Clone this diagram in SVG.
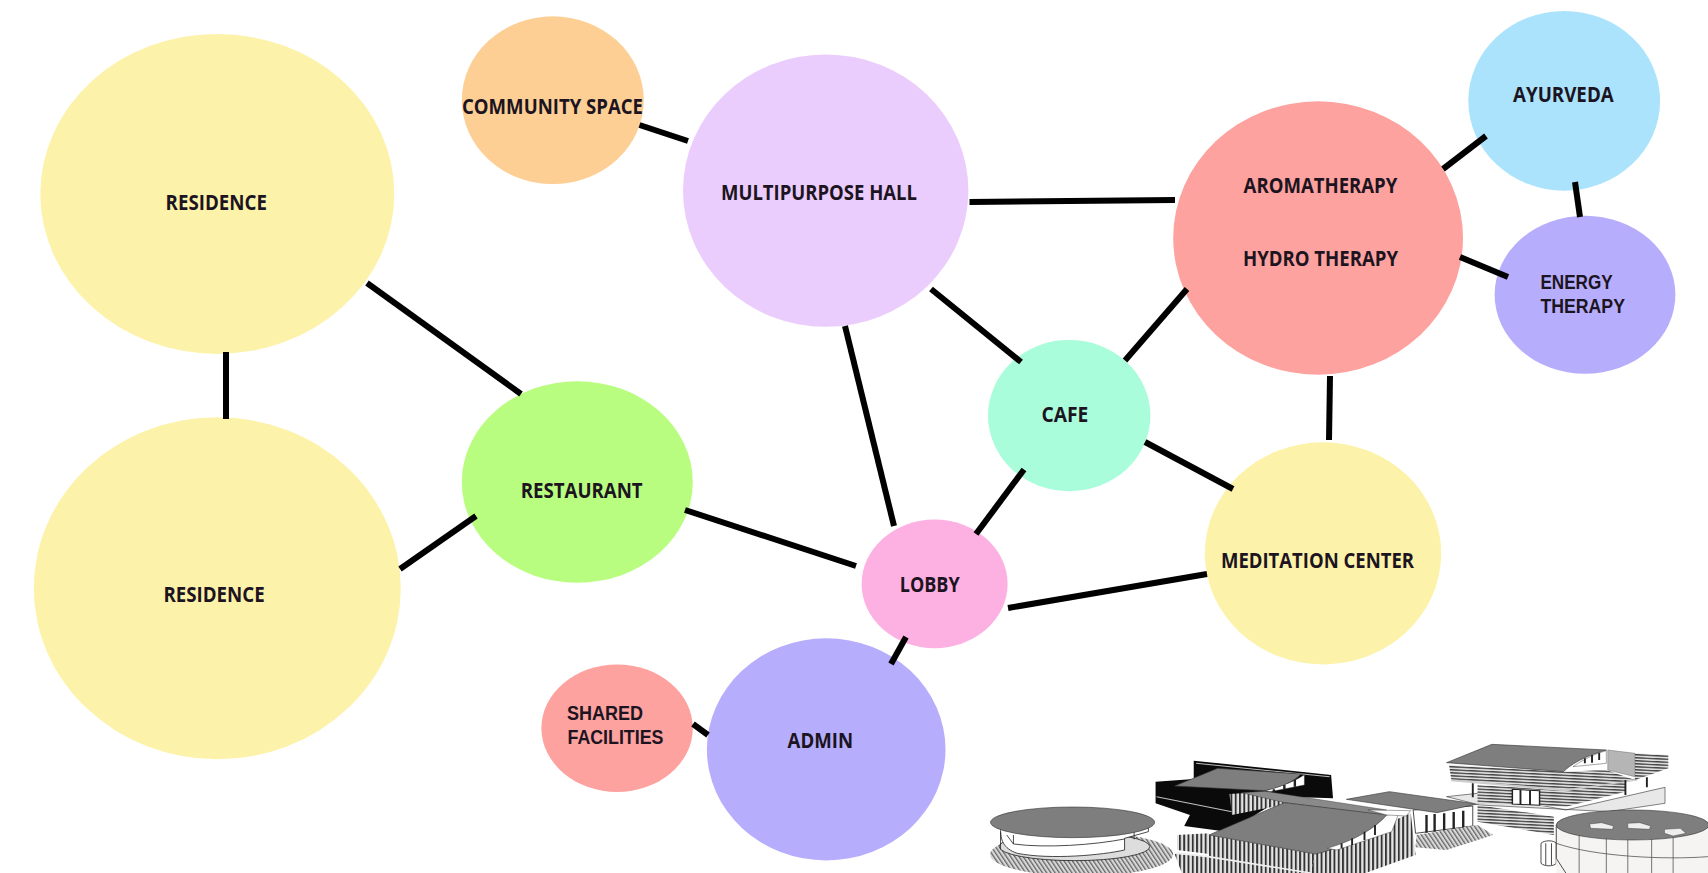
<svg xmlns="http://www.w3.org/2000/svg" width="1708" height="873" viewBox="0 0 1708 873">
<style>
.lbl{font-family:"Open Sans","Liberation Sans",Arial,sans-serif;font-weight:700;font-size:21px;fill:#1c1420}
.lbl2{font-family:"Liberation Sans",Arial,sans-serif;font-weight:700;font-size:21px;fill:#1c1420}
#connectors line{stroke:#000;stroke-width:6;fill:none}
.roof{fill:#7e7e7e;stroke:#333;stroke-width:1.5}
.ol{fill:none;stroke:#222;stroke-width:2}
.w{fill:#fff;stroke:#222;stroke-width:2}
</style>
<defs>
<pattern id="vh" width="9" height="9" patternUnits="userSpaceOnUse"><rect width="9" height="9" fill="#e4e4e4"/><rect width="4" height="9" fill="#333"/></pattern>
<pattern id="hh" width="14" height="9" patternUnits="userSpaceOnUse" patternTransform="rotate(4)"><rect width="14" height="9" fill="#ddd"/><rect width="14" height="4" fill="#444"/></pattern>
<pattern id="dh" width="8" height="8" patternUnits="userSpaceOnUse" patternTransform="rotate(-25)"><rect width="8" height="8" fill="#d8d8d8"/><rect width="3" height="8" fill="#666"/></pattern>
</defs>
<rect width="1708" height="873" fill="#fff"/>
<g id="residence-1"><ellipse cx="217.3" cy="193.9" rx="177" ry="160" fill="#fdf2a9"/><text class="lbl" x="165.6" y="210" textLength="101.4" lengthAdjust="spacingAndGlyphs">RESIDENCE</text></g>
<g id="residence-2"><ellipse cx="217.3" cy="588.2" rx="183.5" ry="171" fill="#fdf2a9"/><text class="lbl" x="163.4" y="602" textLength="101.3" lengthAdjust="spacingAndGlyphs">RESIDENCE</text></g>
<g id="restaurant"><ellipse cx="577.3" cy="482" rx="115.5" ry="100.8" fill="#b9fd80"/><text class="lbl" x="520.7" y="498" textLength="122" lengthAdjust="spacingAndGlyphs">RESTAURANT</text></g>
<g id="community-space"><ellipse cx="552.8" cy="100.2" rx="91" ry="83.9" fill="#fdcf95"/><text class="lbl" x="462" y="114" textLength="181" lengthAdjust="spacingAndGlyphs">COMMUNITY SPACE</text></g>
<g id="multipurpose-hall"><ellipse cx="825.7" cy="190.6" rx="142.7" ry="136.2" fill="#ebcdfd"/><text class="lbl" x="721" y="200" textLength="196" lengthAdjust="spacingAndGlyphs">MULTIPURPOSE HALL</text></g>
<g id="cafe"><ellipse cx="1069.2" cy="415.6" rx="81.2" ry="75.7" fill="#aafddb"/><text class="lbl" x="1041.4" y="422" textLength="46.8" lengthAdjust="spacingAndGlyphs">CAFE</text></g>
<g id="aromatherapy"><ellipse cx="1318.1" cy="238" rx="144.9" ry="136.7" fill="#fda29f"/><text class="lbl" x="1243.6" y="193" textLength="153.7" lengthAdjust="spacingAndGlyphs">AROMATHERAPY</text><text class="lbl" x="1243" y="266" textLength="155" lengthAdjust="spacingAndGlyphs">HYDRO THERAPY</text></g>
<g id="ayurveda"><ellipse cx="1564.2" cy="100.8" rx="95.9" ry="89.9" fill="#abe3fd"/><text class="lbl" x="1513" y="102" textLength="100.7" lengthAdjust="spacingAndGlyphs">AYURVEDA</text></g>
<g id="energy-therapy"><ellipse cx="1585" cy="294.7" rx="90.4" ry="79" fill="#b6aefd"/><text class="lbl2" x="1540.4" y="289" textLength="72.2" lengthAdjust="spacingAndGlyphs">ENERGY</text><text class="lbl2" x="1540.4" y="313" textLength="84.6" lengthAdjust="spacingAndGlyphs">THERAPY</text></g>
<g id="meditation-center"><ellipse cx="1323" cy="553.4" rx="118.2" ry="111.1" fill="#fdf2a9"/><text class="lbl" x="1221" y="568" textLength="193" lengthAdjust="spacingAndGlyphs">MEDITATION CENTER</text></g>
<g id="lobby"><ellipse cx="934.6" cy="583.9" rx="73" ry="64.3" fill="#fdb1e3"/><text class="lbl" x="899.8" y="592" textLength="59.9" lengthAdjust="spacingAndGlyphs">LOBBY</text></g>
<g id="admin"><ellipse cx="826.2" cy="749.4" rx="119.3" ry="111.1" fill="#b6aefd"/><text class="lbl" x="787.6" y="748" textLength="65.4" lengthAdjust="spacingAndGlyphs">ADMIN</text></g>
<g id="shared-facilities"><ellipse cx="617.1" cy="728.2" rx="75.7" ry="63.7" fill="#fda29f"/><text class="lbl2" x="567" y="720" textLength="76" lengthAdjust="spacingAndGlyphs">SHARED</text><text class="lbl2" x="567.5" y="744" textLength="95.9" lengthAdjust="spacingAndGlyphs">FACILITIES</text></g>
<g id="connectors">
<line x1="226" y1="352" x2="226" y2="419"/>
<line x1="367" y1="283" x2="521" y2="394"/>
<line x1="400" y1="569" x2="476" y2="516"/>
<line x1="685" y1="510" x2="856" y2="566"/>
<line x1="639.5" y1="125" x2="688" y2="141"/>
<line x1="969.5" y1="202" x2="1175" y2="200"/>
<line x1="931" y1="289" x2="1021" y2="362"/>
<line x1="845" y1="326" x2="894" y2="526"/>
<line x1="1125" y1="360.5" x2="1187" y2="289"/>
<line x1="1024" y1="469.5" x2="976" y2="534"/>
<line x1="1145" y1="442" x2="1233" y2="489"/>
<line x1="1008" y1="608" x2="1207" y2="574"/>
<line x1="1330" y1="376" x2="1329" y2="440"/>
<line x1="906" y1="637" x2="891" y2="664"/>
<line x1="693" y1="724" x2="708" y2="735"/>
<line x1="1443" y1="169" x2="1486" y2="136"/>
<line x1="1575" y1="182" x2="1580" y2="217"/>
<line x1="1460" y1="257" x2="1508" y2="277"/>
</g>
<g id="building" transform="translate(960,700) scale(0.477,0.3333)">
<ellipse cx="255" cy="463" rx="192" ry="66" fill="url(#dh)"/>
<ellipse cx="240" cy="440" rx="158" ry="42" fill="#ddd" stroke="#222" stroke-width="2"/>
<path d="M85,385 C85,420 90,445 120,460 C190,480 300,465 345,450 L345,415 L395,395 L395,380 Z" fill="#fff" stroke="#222" stroke-width="2"/>
<path d="M98,405 L112,432 C180,445 280,435 345,417" class="ol"/>
<path d="M85,395 L85,448 M112,405 L112,432 M365,385 L365,418" class="ol"/>
<ellipse cx="236" cy="367" rx="172" ry="46" class="roof"/>
<polygon points="410,245 490,237 490,182 778,225 782,295 682,290 560,395 470,378 482,345 410,310" fill="#0a0a0a"/>
<path d="M412,290 L570,335 M495,190 L775,230" stroke="#bbb" stroke-width="3" fill="none"/>
<polygon points="455,405 522,400 522,462 455,450" fill="url(#vh)"/>
<path d="M450,258 L540,205 L715,222 C700,245 670,265 640,272 Z" class="roof"/>
<path d="M640,272 C670,262 700,245 722,224 L722,255 L650,275 Z" fill="#fff" stroke="#222"/>
<path d="M658,268 L658,275 M680,255 L680,268 M702,240 L702,260" stroke="#222" stroke-width="5"/>
<polygon points="565,282 640,275 700,308 570,345" fill="url(#vh)"/>
<polygon points="590,278 640,274 895,330 880,345 680,308" fill="#8a8a8a" stroke="#333"/>
<polygon points="950,330 1075,318 1075,378 955,400" fill="#fff" stroke="#222" stroke-width="2"/>
<path d="M978,345 V398 M995,342 V395 M1015,340 V392 M1035,336 V388 M1055,332 V385" stroke="#222" stroke-width="5"/>
<polygon points="810,298 900,275 1085,312 1000,338" class="roof"/>
<polygon points="957,405 1085,375 1118,405 1020,450 955,442" fill="url(#dh)"/>
<polygon points="745,462 945,340 955,465 850,519 735,519" fill="url(#vh)"/>
<polygon points="522,405 745,462 735,519 465,519 450,462 522,470" fill="url(#vh)"/>
<path d="M450,458 L520,470 L735,519" stroke="#eee" stroke-width="5" fill="none"/>
<path d="M522,405 L680,308 L895,345 C860,400 790,450 745,462 Z" class="roof"/>
<path d="M770,445 C830,420 870,385 895,345 L920,340 L905,395 L790,450 Z" fill="#fff" stroke="#222"/>
<path d="M800,430 V445 M822,415 V435 M848,395 V420 M870,375 V405" stroke="#222" stroke-width="4"/>
<polygon points="855,330 945,332 935,348 895,345" fill="#fff" stroke="#222"/>
<polygon points="1020,290 1085,280 1270,330 1478,262 1478,310 1360,335 1090,315" fill="#e8e8e8" stroke="#333" stroke-width="1.5"/>
<polygon points="1085,315 1245,350 1245,405 1085,365" fill="url(#hh)"/>
<polygon points="1085,255 1270,272 1395,240 1395,275 1270,320 1085,310" fill="url(#hh)"/>
<polygon points="1158,268 1215,272 1215,316 1158,312" fill="#fff" stroke="#222" stroke-width="3"/>
<path d="M1175,270 V314 M1195,271 V315" stroke="#222" stroke-width="4"/>
<path d="M1030,240 L1270,270 L1420,238" fill="none" stroke="#ccc" stroke-width="7"/>
<polygon points="1025,195 1265,215 1355,210 1415,240 1270,268 1030,238" fill="url(#hh)"/>
<polygon points="1415,160 1485,165 1485,205 1415,240" fill="url(#hh)"/>
<polygon points="1358,150 1415,160 1415,230 1358,210" fill="#b5b5b5" stroke="#555"/>
<path d="M1020,188 L1115,133 L1355,150 C1330,160 1290,180 1265,215 Z" class="roof"/>
<path d="M1285,200 C1310,175 1335,160 1355,152 L1355,190 Z" fill="#fff" stroke="#222"/>
<path d="M1310,190 V175 M1325,188 V165 M1340,180 V158" stroke="#222" stroke-width="4"/>
<path d="M1075,250 V292 M1395,240 V285 M1440,232 V262" stroke="#222" stroke-width="4"/>
<path d="M1218,430 C1225,420 1245,420 1250,430 L1250,490 C1245,500 1225,500 1218,490 Z" class="w"/>
<path d="M1228,430 V495 M1240,430 V495" class="ol"/>
<path d="M1250,375 V519 H1568 V375 Z" fill="#f6f3f3"/>
<path d="M1250,430 C1330,470 1480,480 1568,470 M1298,400 V519 M1355,410 V519 M1400,412 V519 M1450,412 V519 M1495,405 V519" stroke="#555" stroke-width="2" fill="none"/>
<path d="M1250,375 V475 L1270,519" class="ol"/>
<ellipse cx="1410" cy="375" rx="160" ry="45" class="roof"/>
<polygon points="1320,372 1345,368 1370,378 1368,388 1322,385" fill="#eee" stroke="#333"/>
<polygon points="1400,370 1425,368 1448,378 1445,388 1400,385" fill="#eee" stroke="#333"/>
<polygon points="1477,388 1510,385 1522,400 1495,408 1477,400" fill="#eee" stroke="#333"/>
</g>
</svg>
